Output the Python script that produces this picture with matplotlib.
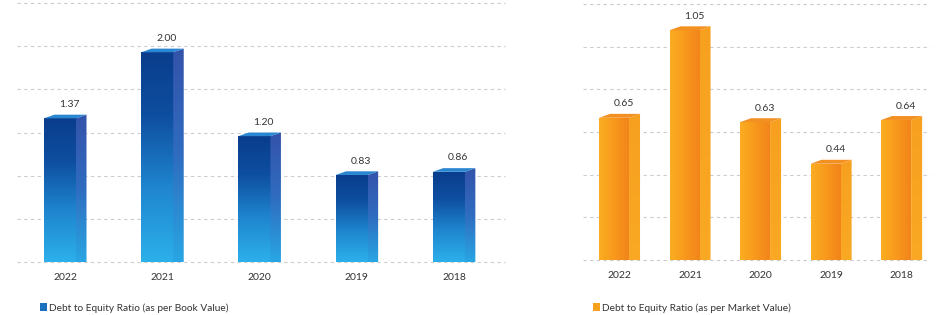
"""Debt to equity ratio panels: book value (blue) and market value (orange)."""

import matplotlib

matplotlib.use("Agg")
import matplotlib.pyplot as plt
import numpy as np
from matplotlib.colors import LinearSegmentedColormap
from matplotlib.patches import Patch, Polygon

YEARS = ["2022", "2021", "2020", "2019", "2018"]
BOOK_VALUE_RATIO = [1.37, 2.00, 1.20, 0.83, 0.86]
MARKET_VALUE_RATIO = [0.65, 1.05, 0.63, 0.44, 0.64]
BOOK_LABELS = ["1.37", "2.00", "1.20", "0.83", "0.86"]
MARKET_LABELS = ["0.65", "1.05", "0.63", "0.44", "0.64"]
BOOK_LEGEND = "Debt to Equity Ratio (as per Book Value)"
MARKET_LEGEND = "Debt to Equity Ratio (as per Market Value)"

TEXT_COLOR = "#333333"
GRID_COLOR = "#cccccc"
FONT = ["Lato", "DejaVu Sans"]

BLUE_FRONT = LinearSegmentedColormap.from_list(
    "blue_front", [(0.0, "#2cb0ea"), (0.35, "#1f86cf"), (0.7, "#0e4ea0"), (1.0, "#0a3d8c")]
)
BLUE_SIDE = LinearSegmentedColormap.from_list("blue_side", ["#29a6e4", "#2f6cc0", "#3453aa"])
ORANGE_FRONT = LinearSegmentedColormap.from_list("orange_front", ["#fbae22", "#f8991c", "#f2841a"])
ORANGE_SIDE = LinearSegmentedColormap.from_list("orange_side", ["#f9a924", "#f7a020"])

plt.rcParams["font.family"] = FONT


def draw_panel(ax, values, labels, front_cmap, side_cmap, top_color, legend_color,
               legend_text, cfg):
    x = np.arange(len(values))
    width, depth, rise, ymax = cfg["width"], cfg["depth"], cfg["rise"], cfg["ymax"]

    bars = ax.bar(x, values, width=width, color="none", linewidth=0, zorder=2)
    vertical = np.linspace(0, 1, 256).reshape(-1, 1)
    horizontal = np.linspace(0, 1, 256).reshape(1, -1)
    front_grad = vertical if cfg["front_vertical"] else horizontal

    for rect, value in zip(bars, values):
        x0 = rect.get_x()
        x1 = x0 + rect.get_width()
        img = ax.imshow(front_grad, extent=[x0, x1, 0, value], origin="lower",
                        cmap=front_cmap, aspect="auto", zorder=2)
        img.set_clip_path(rect)

        side = Polygon([(x1, 0), (x1 + depth, 0), (x1 + depth, value + rise), (x1, value)],
                       closed=True, facecolor="none", edgecolor="none", zorder=2)
        ax.add_patch(side)
        side_img = ax.imshow(vertical, extent=[x1, x1 + depth, 0, value + rise],
                             origin="lower", cmap=side_cmap, aspect="auto", zorder=2)
        side_img.set_clip_path(side)

        top = Polygon([(x0, value), (x0 + depth, value + rise),
                       (x1 + depth, value + rise), (x1, value)],
                      closed=True, facecolor=top_color, edgecolor="none", zorder=3)
        ax.add_patch(top)

    for xi, value, label in zip(x, values, labels):
        ax.annotate(label, (xi + depth * 0.9, value), xytext=(0, 10),
                    textcoords="offset points", ha="center", va="center",
                    fontsize=7.5, color=TEXT_COLOR)

    grid = np.linspace(0, ymax, 7)
    for g in grid:
        ax.axhline(g, color=GRID_COLOR, linewidth=0.8, linestyle=(0, (3, 3)), zorder=1,
                   clip_on=False)

    ax.set_xlim(*cfg["xlim"])
    ax.set_ylim(0, ymax)
    ax.set_xticks(x + depth / 2)
    ax.set_xticklabels(YEARS, fontsize=7.5, color=TEXT_COLOR)
    ax.tick_params(axis="x", length=0, pad=8)
    ax.set_yticks([])
    for spine in ax.spines.values():
        spine.set_visible(False)

    ax.legend(handles=[Patch(facecolor=legend_color, edgecolor="none")],
              labels=[legend_text], loc="center left",
              bbox_to_anchor=cfg["legend_anchor"], frameon=False, fontsize=7.3,
              handlelength=0.7, handleheight=0.85, handletextpad=0.15,
              borderaxespad=0, borderpad=0, labelcolor=TEXT_COLOR)


fig = plt.figure(figsize=(9.4, 3.15), dpi=100)
fig.patch.set_facecolor("white")

ax_book = fig.add_axes([17 / 940, 53 / 315, 488 / 940, 259 / 315])
ax_market = fig.add_axes([583 / 940, 55 / 315, 347 / 940, 256 / 315])

draw_panel(
    ax_book, BOOK_VALUE_RATIO, BOOK_LABELS, BLUE_FRONT, BLUE_SIDE, "#2b86d2",
    "#1a6fbf", BOOK_LEGEND,
    {"width": 0.33, "depth": 0.108, "rise": 0.035, "ymax": 2.47,
     "xlim": (-0.442, 4.578), "front_vertical": True, "legend_anchor": (0.047, -0.178)},
)
draw_panel(
    ax_market, MARKET_VALUE_RATIO, MARKET_LABELS, ORANGE_FRONT, ORANGE_SIDE, "#f39022",
    "#f7a01e", MARKET_LEGEND,
    {"width": 0.425, "depth": 0.156, "rise": 0.018, "ymax": 1.17,
     "xlim": (-0.44, 4.48), "front_vertical": False, "legend_anchor": (0.029, -0.188)},
)

fig.savefig("out.png", dpi=100, facecolor="white")
